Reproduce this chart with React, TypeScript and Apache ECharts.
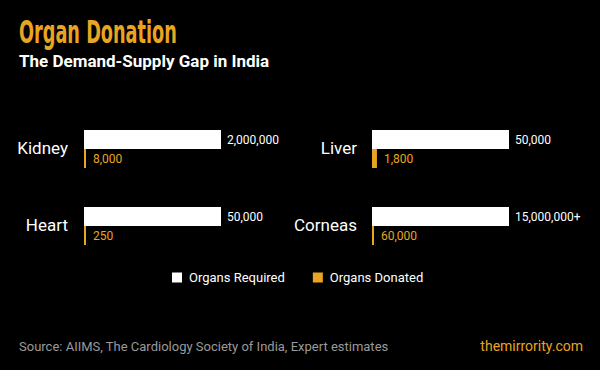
import React, { useEffect, useRef } from 'react';
import * as echarts from 'echarts';

const organs = ['Kidney', 'Liver', 'Heart', 'Corneas'];
const required = [2000000, 50000, 50000, 15000000];
const donated = [8000, 1800, 250, 60000];
const requiredSuffix = ['', '', '', '+'];
const seriesNames = ['Organs Required', 'Organs Donated'];
const barKinds = ['required', 'donated'];

const titleText = 'Organ Donation';
const subtitleText = 'The Demand-Supply Gap in India';
const sourceText = 'Source: AIIMS, The Cardiology Society of India, Expert estimates';
const brandText = 'themirrority.com';

const ORANGE = '#E9A521';
const FONT = 'Roboto, "Noto Sans", sans-serif';

const fmt = (v: number) => v.toLocaleString('en-US');

export default function App() {
  const ref = useRef<HTMLDivElement>(null);
  useEffect(() => {
    const chart = echarts.init(ref.current!, null, { renderer: 'svg' });
    const panels = [
      { left: 84, top: 130, nameX: 68 },
      { left: 372, top: 130, nameX: 357 },
      { left: 84, top: 207, nameX: 68 },
      { left: 372, top: 207, nameX: 357 },
    ];
    const grids = panels.map((p) => ({ left: p.left, top: p.top, width: 137, height: 38 }));
    const xAxes = organs.map((_, i) => ({
      type: 'value' as const,
      gridIndex: i,
      min: 0,
      max: required[i],
      show: false,
    }));
    const yAxes = organs.map((_, i) => ({
      type: 'category' as const,
      gridIndex: i,
      data: barKinds,
      inverse: true,
      show: false,
    }));
    const series: any[] = [];
    organs.forEach((_, i) => {
      series.push({
        type: 'bar',
        name: seriesNames[0],
        xAxisIndex: i,
        yAxisIndex: i,
        stack: 'panel' + i,
        barCategoryGap: 0,
        data: [required[i], '-'],
        itemStyle: { color: '#ffffff' },
        label: {
          show: true,
          position: 'right',
          distance: 6,
          color: '#ffffff',
          fontSize: 12,
          fontFamily: FONT,
          formatter: () => fmt(required[i]) + requiredSuffix[i],
        },
      });
      series.push({
        type: 'bar',
        name: seriesNames[1],
        xAxisIndex: i,
        yAxisIndex: i,
        stack: 'panel' + i,
        barMinHeight: 2,
        data: ['-', donated[i]],
        itemStyle: { color: ORANGE },
        label: {
          show: true,
          position: 'right',
          distance: 7,
          color: ORANGE,
          fontSize: 12,
          fontFamily: FONT,
          formatter: () => fmt(donated[i]),
        },
      });
    });

    const graphic: any[] = [
      {
        type: 'text',
        x: 19,
        y: 32,
        scaleX: 0.615,
        style: {
          text: titleText,
          fill: ORANGE,
          fontSize: 32,
          fontWeight: 'bold',
          fontFamily: '"Liberation Sans Narrow", "DejaVu Sans Condensed", sans-serif',
          align: 'left',
          verticalAlign: 'middle',
        },
      },
      {
        type: 'text',
        x: 19,
        y: 61,
        style: {
          text: subtitleText,
          fill: '#ffffff',
          fontSize: 17,
          fontWeight: 'bold',
          fontFamily: FONT,
          align: 'left',
          verticalAlign: 'middle',
        },
      },
      {
        type: 'text',
        x: 19,
        y: 346,
        style: {
          text: sourceText,
          fill: '#9a9a9a',
          fontSize: 13,
          fontFamily: FONT,
          align: 'left',
          verticalAlign: 'middle',
        },
      },
      {
        type: 'text',
        x: 583,
        y: 346,
        style: {
          text: brandText,
          fill: ORANGE,
          fontSize: 14,
          fontFamily: FONT,
          align: 'right',
          verticalAlign: 'middle',
        },
      },
      ...organs.map((o, i) => ({
        type: 'text',
        x: panels[i].nameX,
        y: panels[i].top + 18,
        style: {
          text: o,
          fill: '#ffffff',
          fontSize: 17,
          fontFamily: FONT,
          align: 'right',
          verticalAlign: 'middle',
        },
      })),
    ];

    chart.setOption({
      animation: false,
      backgroundColor: '#000000',
      grid: grids,
      xAxis: xAxes,
      yAxis: yAxes,
      series,
      legend: {
        data: seriesNames,
        left: 167,
        top: 266,
        icon: 'rect',
        itemWidth: 10,
        itemHeight: 10,
        itemGap: 28,
        selectedMode: false,
        textStyle: { color: '#ffffff', fontSize: 13, fontFamily: FONT, padding: [0, 0, 0, 2] },
      },
      graphic,
    });
    return () => chart.dispose();
  }, []);
  return (
    <div
      ref={ref}
      style={{ position: 'fixed', left: 0, top: 0, width: 600, height: 370, background: '#000' }}
    />
  );
}
